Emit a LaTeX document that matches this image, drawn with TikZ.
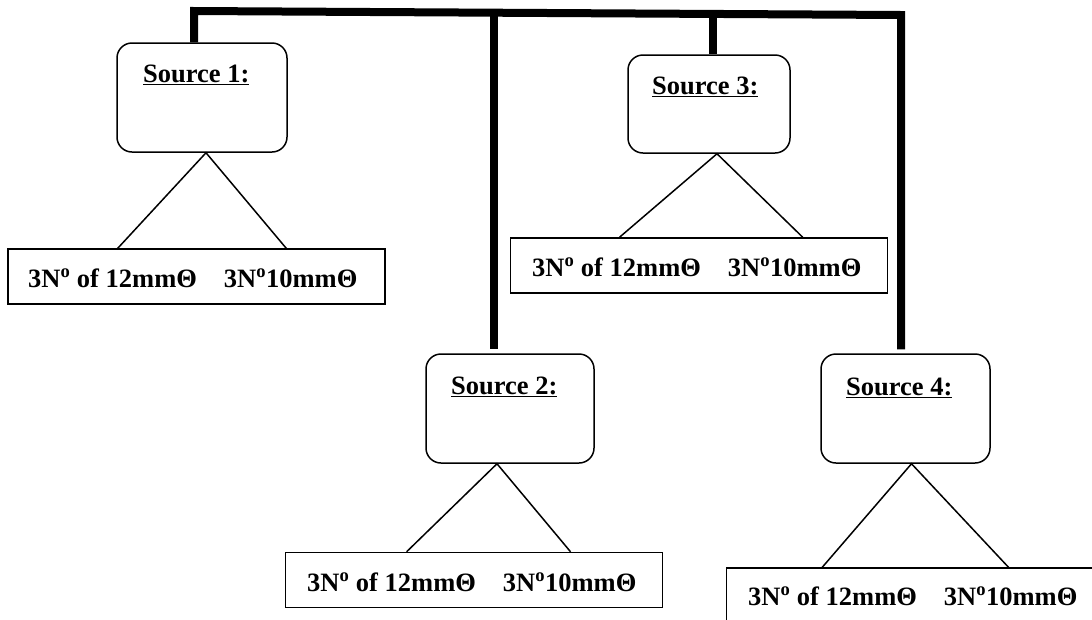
\documentclass[tikz,border=0pt]{standalone}
\usepackage{fontspec}
\setmainfont{Liberation Serif}
\usetikzlibrary{calc}
\tikzset{
  srcbox/.style={draw, line width=1.5pt, rounded corners=15pt, inner sep=0pt},
  itembox/.style={draw, line width=1.5pt, inner sep=0pt, minimum width=377pt, minimum height=55pt},
  lbl/.style={anchor=base west, inner sep=0pt, font=\fontsize{26.5}{30}\selectfont\bfseries},
  thin/.style={line width=1.5pt},
  bus/.style={line width=8pt, line join=miter, line cap=butt}
}
\newcommand{\itemtxt}{3N\textsuperscript{o} of 12mmΘ\hspace{27pt}3N\textsuperscript{o}10mmΘ}
\begin{document}
\begin{tikzpicture}[x=1pt,y=-1pt]
\useasboundingbox (0,0) rectangle (1092,619);
\clip (0,0) rectangle (1092,619);
% source boxes
\node[srcbox, minimum width=170pt, minimum height=109pt] (s1) at (202,97.5) {};
\node[srcbox, minimum width=162pt, minimum height=98pt] (s3) at (709,104) {};
\node[srcbox, minimum width=168pt, minimum height=109pt] (s2) at (510,408.5) {};
\node[srcbox, minimum width=169pt, minimum height=109pt] (s4) at (905.5,408.5) {};
\node[lbl] (t1) at (143,82) {\underline{Source 1:}};
\node[lbl] (t3) at (652,94) {\underline{Source 3:}};
\node[lbl] (t2) at (451,394) {\underline{Source 2:}};
\node[lbl] (t4) at (846,395) {\underline{Source 4:}};
% item boxes
\node[itembox] (b1) at (196.5,276.5) {};
\node[itembox] (b3) at (699,265.5) {};
\node[itembox] (b2) at (474,580) {};
\node[itembox] (b4) at (915,595.5) {};
\node[lbl] (i1) at (28,287) {\itemtxt};
\node[lbl] (i3) at (532,276) {\itemtxt};
\node[lbl] (i2) at (307,591) {\itemtxt};
\node[lbl] (i4) at (748,605) {\itemtxt};
% branch lines
\draw[thin] ($(b1.north west)!0.292!(b1.north east)$) -- ([xshift=4pt]s1.south) -- ($(b1.north west)!0.737!(b1.north east)$);
\draw[thin] ($(b3.north west)!0.290!(b3.north east)$) -- ([xshift=8pt]s3.south) -- ($(b3.north west)!0.774!(b3.north east)$);
\draw[thin] ($(b2.north west)!0.322!(b2.north east)$) -- ([xshift=-13pt]s2.south) -- ($(b2.north west)!0.755!(b2.north east)$);
\draw[thin] ($(b4.north west)!0.255!(b4.north east)$) -- ([xshift=6pt]s4.south) -- ($(b4.north west)!0.747!(b4.north east)$);
% bus
\coordinate (tl) at (194,11);
\coordinate (tr) at (901,15);
\coordinate (j2) at ($(tl)!0.4243!(tr)$);
\coordinate (j3) at ($(tl)!0.734!(tr)$);
\coordinate (s1top) at ([xshift=-8pt]s1.north);
\coordinate (s2top) at ([yshift=4pt]s2.north);
\coordinate (s4top) at ([yshift=4pt]s4.north);
\draw[bus] (s1top) -- (tl) -- (tr) -- (s4top -| tr);
\draw[bus] (j2) -- (s2top -| j2);
\draw[bus] (j3) -- (s3.north -| j3);
\end{tikzpicture}
\end{document}
